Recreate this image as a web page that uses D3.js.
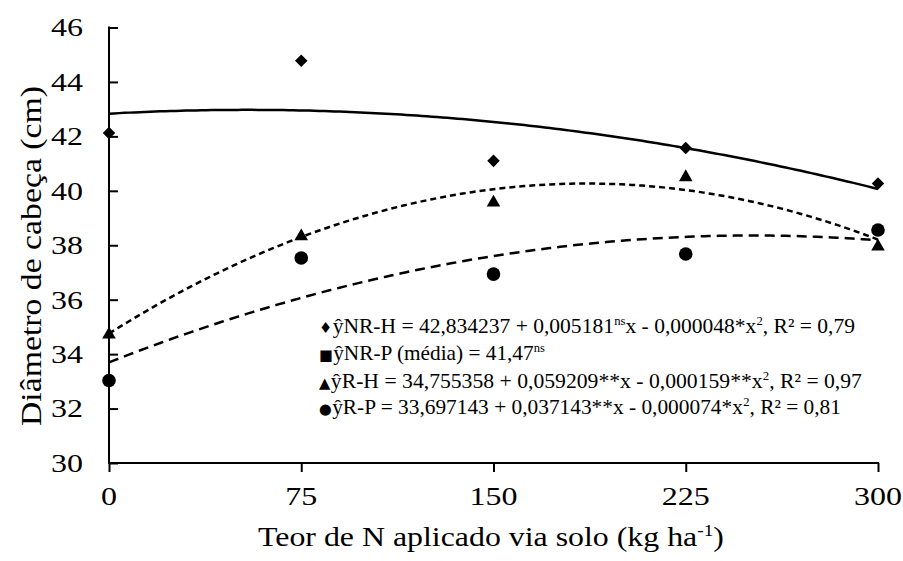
<!DOCTYPE html>
<html>
<head>
<meta charset="utf-8">
<script src="https://cdn.jsdelivr.net/npm/d3@7"></script>
<style>
  body { margin: 0; background: #fff; }
  svg text { font-family: "Liberation Serif", "Times New Roman", serif; fill: #000; }
</style>
</head>
<body>
<svg id="chart" width="903" height="561" font-family="Liberation Serif"></svg>
<script>
// Doses of N (kg/ha)
const doses = [0, 75, 150, 225, 300];

const nrH = [42.12, 44.78, 41.1, 41.57, 40.27];
const rH = [34.72, 38.33, 39.57, 40.5, 37.95];
const rP = [33.03, 37.53, 36.94, 37.68, 38.56];

// Fitted quadratic coefficients [a, b, c] printed on the chart
const fitNrH = [42.834237, 0.005181, -0.000048];
const fitRH = [34.755358, 0.059209, -0.000159];
const fitRP = [33.697143, 0.037143, -0.000074];

const yTicks = [30, 32, 34, 36, 38, 40, 42, 44, 46];

const svg = d3.select("#chart");

const x = d3.scaleLinear().domain([0, 300]).range([109, 878]);
const y = d3.scaleLinear().domain([30, 46]).range([463, 27.5]);

// Axes
const xAxis = svg.append("g")
  .attr("transform", `translate(0,${y(30)})`)
  .call(d3.axisBottom(x).tickValues(doses).tickSize(9).tickFormat(""));

const yAxis = svg.append("g")
  .attr("transform", `translate(${x(0)},0)`)
  .call(d3.axisRight(y).tickValues(yTicks).tickSize(9).tickFormat(""));

[xAxis, yAxis].forEach(g => {
  g.select(".domain").attr("stroke", "#000").attr("stroke-width", 2);
  g.selectAll(".tick line").attr("stroke", "#000").attr("stroke-width", 2);
});
yAxis.select(".domain").attr("d", `M0,${y(46) - 1}V${y(30)}`);
xAxis.select(".domain").attr("d", `M${x(0) - 1},0H${x(300) + 1}`);

// Tick labels (digits in the picture are drawn wide)
const digitW = 16;

svg.append("g")
  .selectAll("text")
  .data(doses)
  .join("text")
    .attr("x", d => x(d))
    .attr("y", 505)
    .attr("text-anchor", "middle")
    .attr("font-size", 26)
    .attr("textLength", d => String(d).length * digitW)
    .attr("lengthAdjust", "spacingAndGlyphs")
    .text(d => d);

svg.append("g")
  .selectAll("text")
  .data(yTicks)
  .join("text")
    .attr("x", 83)
    .attr("y", d => y(d))
    .attr("dy", "0.34em")
    .attr("text-anchor", "end")
    .attr("font-size", 26)
    .attr("textLength", d => String(d).length * digitW)
    .attr("lengthAdjust", "spacingAndGlyphs")
    .text(d => d);

// Trend curves
const poly = c => v => c[0] + c[1] * v + c[2] * v * v;
const xs = d3.range(0, 300.1, 2);

const curves = [
  { fit: fitNrH, dash: null },
  { fit: fitRH, dash: "6,4" },
  { fit: fitRP, dash: "10,6" },
];

const line = d3.line().x(d => x(d[0])).y(d => y(d[1]));

svg.append("g")
  .selectAll("path")
  .data(curves)
  .join("path")
    .attr("fill", "none")
    .attr("stroke", "#000")
    .attr("stroke-width", 2.5)
    .attr("stroke-dasharray", d => d.dash)
    .attr("d", d => line(xs.map(v => [v, poly(d.fit)(v)])));

// Markers
const series = [
  { values: nrH, symbol: d3.symbolDiamond2, size: 100 },
  { values: rH, symbol: d3.symbolTriangle, size: 80 },
  { values: rP, symbol: d3.symbolCircle, size: 145 },
];

series.forEach(s => {
  svg.append("g")
    .selectAll("path")
    .data(s.values)
    .join("path")
      .attr("transform", (d, i) => `translate(${x(doses[i])},${y(d)})`)
      .attr("d", d3.symbol().type(s.symbol).size(s.size))
      .attr("fill", "#000");
});

// Equations: each piece is its own text, laid side by side, then squeezed to width
const eqs = [
  { y: 333, w: 536, parts: [["♦", "sym"], ["ŷNR-H = 42,834237 + 0,005181"], ["ns", "sup"], ["x - 0,000048*x"], ["2", "sup"], [", R² = 0,79"]] },
  { y: 360, w: 226, parts: [["■", "sym"], ["ŷNR-P (média) = 41,47"], ["ns", "sup"]] },
  { y: 388, w: 543, parts: [["▲", "sym"], ["ŷR-H = 34,755358 + 0,059209**x - 0,000159**x"], ["2", "sup"], [", R² = 0,97"]] },
  { y: 414, w: 522, parts: [["●", "sym"], ["ŷR-P = 33,697143 + 0,037143**x - 0,000074*x"], ["2", "sup"], [", R² = 0,81"]] },
];

eqs.forEach(e => {
  const g = svg.append("g");
  let cx = 0;
  e.parts.forEach(p => {
    const t = g.append("text")
      .attr("x", cx)
      .attr("y", p[1] === "sup" ? -8 : 0)
      .attr("font-size", p[1] === "sup" ? 13 : p[1] === "sym" ? 15 : 22)
      .text(p[0]);
    if (p[1] === "sym") t.style("font-family", "DejaVu Sans");
    cx += t.node().getComputedTextLength() + (p[1] === "sym" ? 0.5 : 0);
  });
  g.attr("transform", `translate(319,${e.y}) scale(${e.w / cx},1)`);
});

// Axis titles
svg.append("text")
  .attr("x", 491)
  .attr("y", 546)
  .attr("text-anchor", "middle")
  .attr("font-size", 28)
  .attr("textLength", 466)
  .attr("lengthAdjust", "spacingAndGlyphs")
  .html('Teor de N aplicado via solo (kg ha<tspan font-size="17" dy="-10">-1</tspan><tspan dy="10">)</tspan>');

svg.append("text")
  .attr("transform", "translate(41,256) rotate(-90)")
  .attr("text-anchor", "middle")
  .attr("font-size", 29)
  .attr("textLength", 340)
  .attr("lengthAdjust", "spacingAndGlyphs")
  .text("Diâmetro de cabeça (cm)");
</script>
</body>
</html>
